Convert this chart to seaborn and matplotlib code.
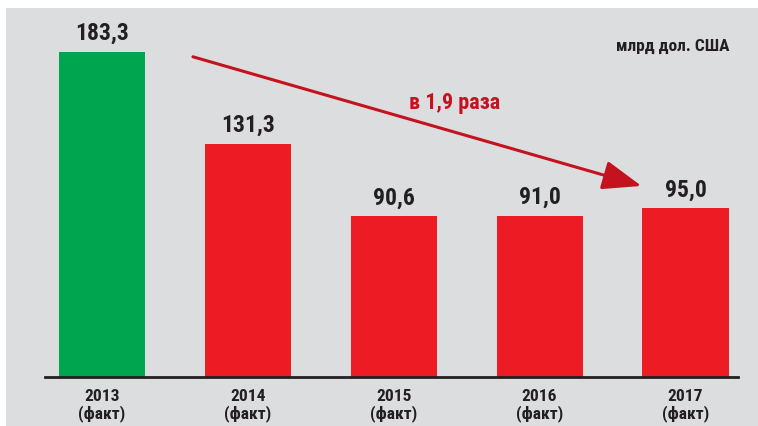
import matplotlib
matplotlib.use("Agg")
import matplotlib.pyplot as plt
import matplotlib.patches as mpatches
import pandas as pd
import seaborn as sns

years = ["2013", "2014", "2015", "2016", "2017"]
values = [183.3, 131.3, 90.6, 91.0, 95.0]
value_labels = ["183,3", "131,3", "90,6", "91,0", "95,0"]
tick_labels = [y + "\n(факт)" for y in years]
bar_colors = ["#00a54f", "#ed1c24", "#ed1c24", "#ed1c24", "#ed1c24"]
unit_label = "млрд дол. США"
ratio_label = "в 1,9 раза"

df = pd.DataFrame({"year": years, "value": values})

sns.set_style("white")
plt.rcParams["font.family"] = ["Roboto Condensed", "DejaVu Sans"]
dark = "#231f20"
arrow_red = "#c4121f"

fig = plt.figure(figsize=(7.58, 4.27), dpi=100)
fig.patch.set_facecolor("white")
# grey panel behind the chart
fig.patches.append(mpatches.Rectangle((6 / 758, 0), 1, 1 - 9 / 427,
                                      transform=fig.transFigure,
                                      facecolor="#dcdddf", edgecolor="none", zorder=-5))

ax = fig.add_axes([45 / 758, 49 / 427, (738 - 45) / 758, (378 - 9) / 427])
ax.set_facecolor("none")
sns.barplot(data=df, x="year", y="value", hue="year", palette=bar_colors,
            width=0.59, legend=False, saturation=1, linewidth=0, ax=ax)

ax.set_xlim(-0.39, 4.36)
ax.set_ylim(0, 208)

for i, (v, lab) in enumerate(zip(values, value_labels)):
    ax.text(i, v + 4.5, lab, ha="center", va="bottom", fontsize=17,
            fontweight="bold", color=dark)

ax.set_xticks(range(len(years)))
ax.set_xticklabels(tick_labels, fontsize=12.5, fontweight="bold", color=dark,
                   linespacing=1.1)
ax.tick_params(axis="x", length=0, pad=8)
ax.set_yticks([])
ax.set_xlabel("")
ax.set_ylabel("")
for s in ["top", "left", "right"]:
    ax.spines[s].set_visible(False)
ax.spines["bottom"].set_color(dark)
ax.spines["bottom"].set_linewidth(2)

ax.text(4.3, 187, unit_label, ha="right", va="center", fontsize=12.5,
        fontweight="bold", color=dark)

# decline arrow from the 2013 bar towards 2017
ax.annotate("", xy=(3.698, values[4] + 12.7), xytext=(0.624, values[0] - 2.8),
            arrowprops=dict(arrowstyle="-|>,head_length=1.2,head_width=0.45",
                            color=arrow_red, lw=2.2, mutation_scale=20,
                            shrinkA=0, shrinkB=0))
ax.text(2.415, 155, ratio_label, ha="center", va="center", fontsize=16,
        fontweight="bold", color=arrow_red)

fig.savefig("out.png", dpi=100)
